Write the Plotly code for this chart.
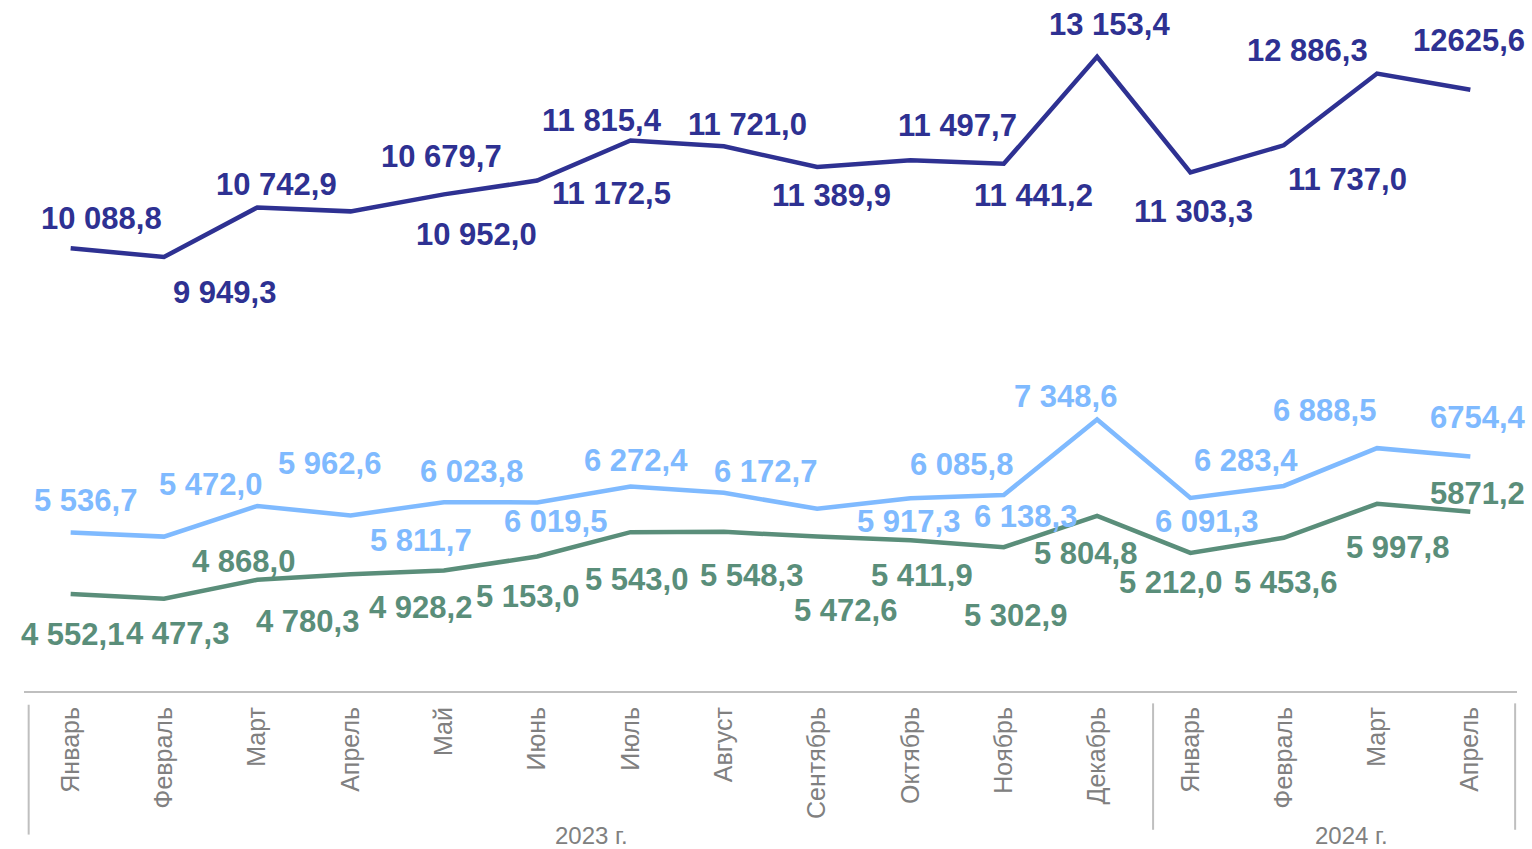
import plotly.graph_objects as go

# Data
years = ["2023 г."] * 12 + ["2024 г."] * 4
months = [
    "Январь", "Февраль", "Март", "Апрель", "Май", "Июнь",
    "Июль", "Август", "Сентябрь", "Октябрь", "Ноябрь", "Декабрь",
    "Январь", "Февраль", "Март", "Апрель",
]

total = [
    10088.8, 9949.3, 10742.9, 10679.7, 10952.0, 11172.5, 11815.4, 11721.0,
    11389.9, 11497.7, 11441.2, 13153.4, 11303.3, 11737.0, 12886.3, 12625.6,
]
light = [
    5536.7, 5472.0, 5962.6, 5811.7, 6023.8, 6019.5, 6272.4, 6172.7,
    5917.3, 6085.8, 6138.3, 7348.6, 6091.3, 6283.4, 6888.5, 6754.4,
]
green = [
    4552.1, 4477.3, 4780.3, 4868.0, 4928.2, 5153.0, 5543.0, 5548.3,
    5472.6, 5411.9, 5302.9, 5804.8, 5212.0, 5453.6, 5997.8, 5871.2,
]

# Label offsets in pixels (dx, up)
total_dx = [31, 61, 19, 91, 33, 74, -29, 24, 14, 47, 30, 12, 3, 64, -70, -1]
total_up = [30, -36, 23, 55, -40, -13, 20, 22, -28, 35, -32, 32, -39, -34, 23, 49]
light_dx = [15, 47, 72, 70, 28, 18, 5, 42, 91, 51, 22, -32, 16, -38, -53, 8]
light_up = [32, 52, 42, -25, 31, -19, 26, 21, -13, 34, -21, 23, -24, 25, 38, 39]
green_dx = [2, 14, 50, -107, -23, -10, 6, 28, 28, 12, 12, -12, -20, 2, 20, 7]
green_up = [-40, -35, -42, 13, -37, -40, -47, -44, -74, -35, -68, -38, -30, -45, -44, 18]

DARK = "#2E3192"
LIGHT = "#7FBAFF"
GREEN = "#5A8E7A"
GREY = "#BFBFBF"
TEXT_GREY = "#808080"
FONT = "Liberation Sans, Arial, sans-serif"


def fmt(v):
    return f"{v:,.1f}".replace(",", " ").replace(".", ",")


# unique category keys so repeated month names stay separate points
keys = [f"{m} {y}" for m, y in zip(months, years)]

fig = go.Figure()

series = [
    (total, DARK, total_dx, total_up),
    (light, LIGHT, light_dx, light_up),
    (green, GREEN, green_dx, green_up),
]

for values, color, dxs, ups in series:
    fig.add_trace(
        go.Scatter(
            x=keys,
            y=values,
            mode="lines",
            line=dict(color=color, width=4.5),
            showlegend=False,
            hoverinfo="y",
        )
    )
    labels = [fmt(v) for v in values]
    # last point in the original is written without a thousands space
    labels[-1] = labels[-1].replace(" ", "")
    for i, (v, t) in enumerate(zip(values, labels)):
        fig.add_annotation(
            x=i,
            y=v,
            xref="x",
            yref="y",
            text=t,
            showarrow=False,
            xshift=dxs[i],
            yshift=ups[i],
            font=dict(family=FONT, size=31, color=color, weight="bold"),
        )

# year group labels and dividers under the axis
year_names = list(dict.fromkeys(years))
year_shift = {"2023 г.": 8, "2024 г.": 21}
for yname in year_names:
    idx = [i for i, y in enumerate(years) if y == yname]
    fig.add_annotation(
        x=sum(idx) / len(idx),
        y=-0.211,
        xref="x",
        yref="paper",
        text=yname,
        showarrow=False,
        xshift=year_shift[yname],
        yanchor="middle",
        font=dict(family=FONT, size=24, color=TEXT_GREY),
    )

for xpos, y0, y1 in [(-0.45, -0.02, -0.209), (11.6, -0.018, -0.202), (15.48, -0.018, -0.202)]:
    fig.add_shape(
        type="line",
        x0=xpos, x1=xpos,
        y0=y0, y1=y1,
        xref="x", yref="paper",
        line=dict(color=GREY, width=2),
    )

fig.update_layout(
    width=1532,
    height=849,
    margin=dict(l=24, r=15, t=4, b=158),
    paper_bgcolor="white",
    plot_bgcolor="white",
    xaxis=dict(
        type="category",
        range=[-0.5, 15.5],
        showline=True,
        linecolor=GREY,
        linewidth=2,
        showgrid=False,
        ticks="",
        tickangle=-90,
        tickvals=keys,
        ticktext=months,
        ticklabelstandoff=4,
        tickfont=dict(family=FONT, size=25, color=TEXT_GREY),
        automargin=False,
    ),
    yaxis=dict(
        range=[3000, 14000],
        visible=False,
        showgrid=False,
        zeroline=False,
    ),
)

# drop the default page margin so the figure fills the window exactly
fig.write_html(
    "out.html",
    config={"displayModeBar": False},
    post_script="document.body.style.margin='0px';",
)
